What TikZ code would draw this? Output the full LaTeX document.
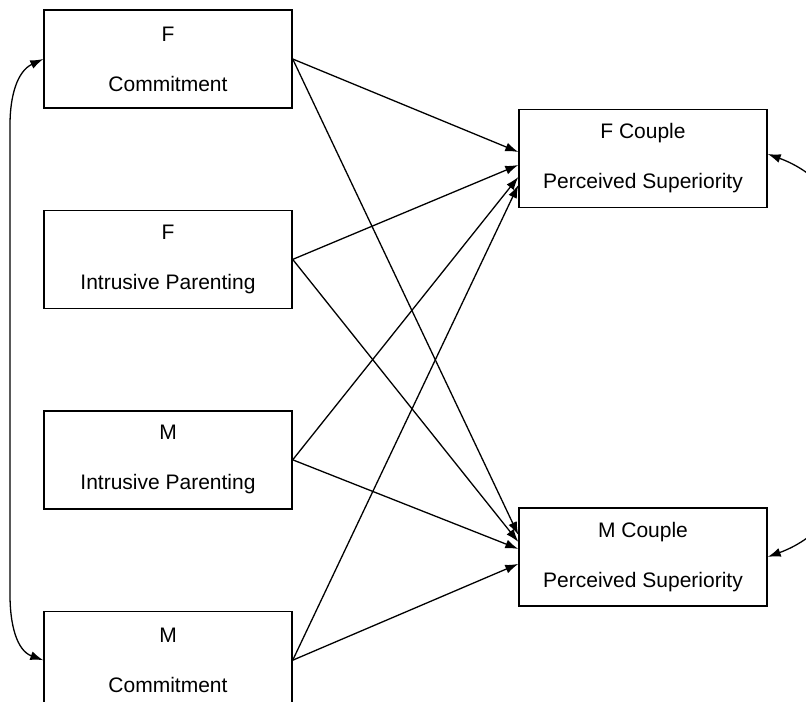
\documentclass[tikz,border=0pt]{standalone}
\usepackage{fontspec}
\setmainfont{Liberation Sans}
\usetikzlibrary{arrows.meta, positioning, calc}

\begin{document}
\begin{tikzpicture}[
                font=\fontsize{10.5pt}{25pt}\selectfont,
                box/.style={draw, line width=0.7pt, minimum width=124pt, minimum height=49pt, inner sep=2pt, align=center},
                effect/.style={line width=0.65pt, -{Latex[length=6.5pt, width=4.5pt]}},
                corr/.style={line width=0.65pt, {Latex[length=6.5pt, width=4.5pt]}-{Latex[length=6.5pt, width=4.5pt]}},
                node distance=50.5pt,
            ]
                \useasboundingbox (-84pt,29.5pt) rectangle (319pt,-321pt);

                % Predictors
                \node[box] (fcom) at (0,0) {F\\Commitment};
                \node[box, below=of fcom] (fip) {F\\Intrusive Parenting};
                \node[box, below=of fip] (mip) {M\\Intrusive Parenting};
                \node[box, below=of mip] (mcom) {M\\Commitment};

                % Outcomes
                \node[box] (fcp) at (237.5pt,-49.75pt) {F Couple\\Perceived Superiority};
                \node[box, below=149.5pt of fcp] (mcp) {M Couple\\Perceived Superiority};

                % Paths to outcomes
                \foreach \src/\dy in {fcom/3.25, fip/-3.25, mip/-9.25, mcom/-13.25}
                    \draw[effect] (\src.east) -- ($(fcp.west)+(0,\dy pt)$);
                \foreach \src/\dy in {fcom/11, fip/7.5, mip/4, mcom/-3.5}
                    \draw[effect] (\src.east) -- ($(mcp.west)+(0,\dy pt)$);

                % Covariances
                \coordinate (ltop) at (-79pt,-33pt);
                \coordinate (lbot) at (-79pt,-268pt);
                \draw[corr] (fcom.west) to[out=205, in=90] (ltop) -- (lbot) to[out=-90, in=160] (mcom.west);
                \draw[corr] ($(fcp.east)+(0,2.25pt)$) to[out=-20, in=20] (mcp.east);
            \end{tikzpicture}
\end{document}
